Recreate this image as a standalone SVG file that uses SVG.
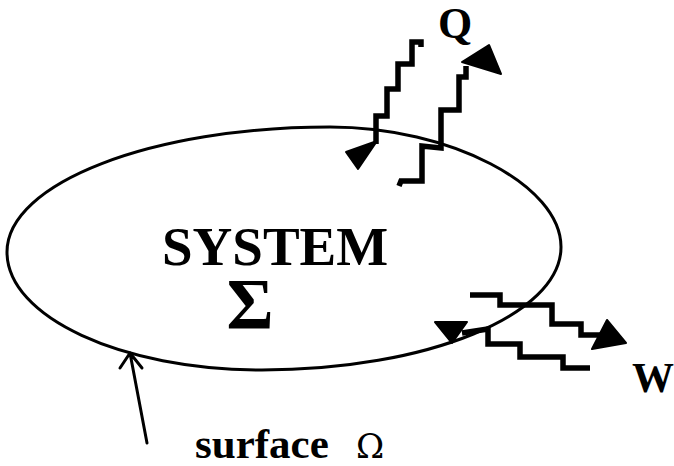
<svg xmlns="http://www.w3.org/2000/svg" width="674" height="466" viewBox="0 0 674 466">
<style>
.bound{fill:none;stroke:#000;stroke-width:3}
.wave{fill:none;stroke:#000;stroke-width:5.5;stroke-linejoin:miter;stroke-linecap:butt}
.head{fill:#000;stroke:#000;stroke-width:2;stroke-linejoin:round}
.lbl{font-family:"Liberation Serif","Times New Roman",serif;font-weight:bold;fill:#000}
.ptr{fill:none;stroke:#000;stroke-width:3;stroke-linecap:round;stroke-linejoin:round}
</style>
<rect width="674" height="466" fill="#fff"/>
<g id="system">
<path class="bound" d="M7,252 C7,183 152,127 330,127 C450,127 561,185 561,247 C561,315 427,370 262,370 C121,370 7,317 7,252 Z"/>
<text class="lbl" x="162" y="265" font-size="55">SYSTEM</text>
<text class="lbl" x="250" y="328" font-size="72" text-anchor="middle">Σ</text>
</g>
<g id="surface-label">
<text class="lbl" x="195" y="458" font-size="43">surface</text>
<text x="356" y="458" font-size="34" font-family="'DejaVu Serif','Liberation Serif',serif" fill="#000">Ω</text>
</g>
<g id="Q-label">
<text class="lbl" x="438" y="38" font-size="44">Q</text>
</g>
<g id="W-label">
<text class="lbl" x="632" y="392" font-size="42">W</text>
</g>
<g id="connectors">
<!-- surface pointer -->
<path class="ptr" d="M147,443 L130,353 M120,368 L130,353 L142,368"/>
<!-- Q incoming -->
<path class="wave" d="M421,47 V42 H412 V64 H398 V89 H387 V116 H376 V144"/>
<polygon class="head" points="346,152 377,141 358,169"/>
<!-- Q outgoing -->
<path class="wave" d="M399,186 L401,181 H422 V146 L441,148 V110 H459 V77 H466 V66"/>
<polygon class="head" points="462,62 489,45 501,74"/>
<!-- W outgoing -->
<path class="wave" d="M470,295 H500 V305 H552 V324 H581 V335 H600"/>
<polygon class="head" points="592,349 607,320 626,343"/>
<!-- W incoming -->
<path class="wave" d="M590,368 H563 V357 H520 V344 H488 V329 L462,333"/>
<polygon class="head" points="435,322 467,322 452,343"/>
</g>
</svg>
